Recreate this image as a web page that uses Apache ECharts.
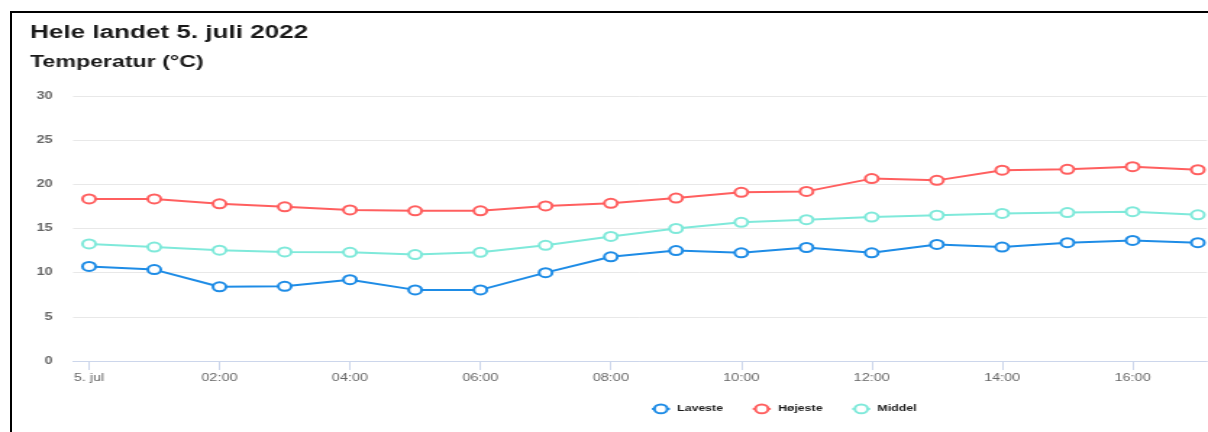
<!DOCTYPE html>
<html>
<head>
<meta charset="utf-8">
<script src="https://cdn.jsdelivr.net/npm/echarts@6/dist/echarts.min.js"></script>
<style>
html,body{margin:0;padding:0;background:#fff;overflow:hidden;width:1208px;height:432px;}
#chart{position:absolute;left:0;top:0;width:834px;height:432px;transform:scaleX(1.4484);transform-origin:0 0;}
#frame{position:absolute;left:10px;top:11px;width:1400px;height:600px;border-left:2px solid #000;border-top:2px solid #000;pointer-events:none;}
</style>
</head>
<body>
<div id="chart"></div>
<div id="frame"></div>
<script>
// Data
var hours = [0, 1, 2, 3, 4, 5, 6, 7, 8, 9, 10, 11, 12, 13, 14, 15, 16, 17];
var laveste = [10.7, 10.35, 8.4, 8.45, 9.2, 8.05, 8.05, 10.0, 11.8, 12.5, 12.25, 12.85, 12.25, 13.2, 12.9, 13.4, 13.65, 13.4];
var hojeste = [18.35, 18.35, 17.8, 17.45, 17.1, 17.0, 17.0, 17.55, 17.85, 18.45, 19.1, 19.2, 20.65, 20.45, 21.6, 21.7, 22.0, 21.65];
var middel = [13.25, 12.9, 12.55, 12.35, 12.3, 12.05, 12.3, 13.1, 14.1, 15.0, 15.7, 16.0, 16.3, 16.5, 16.7, 16.8, 16.9, 16.55];
var xTickValues = [0, 2, 4, 6, 8, 10, 12, 14, 16];
var xTickLabels = ['5. jul', '02:00', '04:00', '06:00', '08:00', '10:00', '12:00', '14:00', '16:00'];
var seriesNames = ['Laveste', 'Højeste', 'Middel'];
var seriesColors = ['#1e8ce6', '#ff5f5f', '#7fe9da'];

function pairs(vals) { return hours.map(function (h, i) { return [h, vals[i]]; }); }

var FONT = 'Liberation Sans, Arial, sans-serif';
var chart = echarts.init(document.getElementById('chart'));
var values = [laveste, hojeste, middel];

chart.setOption({
  animation: false,
  color: seriesColors,
  title: [
    { text: 'Hele landet 5. juli 2022', left: 20.7, top: 24, padding: 0,
      textStyle: { fontFamily: FONT, fontSize: 18, fontWeight: 'bold', color: '#1a1a1a' } },
    { text: 'Temperatur (°C)', left: 20.7, top: 55, padding: 0,
      textStyle: { fontFamily: FONT, fontSize: 16, fontWeight: 'bold', color: '#1a1a1a' } }
  ],
  legend: {
    left: 449, top: 403.5, padding: 0,
    itemWidth: 12.5, itemHeight: 11, itemGap: 19.5,
    textStyle: { fontFamily: FONT, fontSize: 8.5, fontWeight: 'bold', color: '#1a1a1a' },
    data: seriesNames
  },
  grid: { left: 50.4, right: 0.7, top: 96, bottom: 71, containLabel: false },
  xAxis: {
    type: 'value', min: -0.246, max: 17.14,
    axisLine: { show: true, lineStyle: { color: '#ccd6eb', width: 1 } },
    axisTick: { show: true, customValues: xTickValues, length: 9, lineStyle: { color: '#ccd6eb' } },
    axisLabel: {
      customValues: xTickValues, margin: 12,
      fontFamily: FONT, fontSize: 10, color: '#666',
      formatter: function (v) { var i = xTickValues.indexOf(v); return i >= 0 ? xTickLabels[i] : ''; }
    },
    splitLine: { show: false }
  },
  yAxis: {
    type: 'value', min: 0, max: 30, interval: 5,
    axisLine: { show: false }, axisTick: { show: false },
    axisLabel: { margin: 14, fontFamily: FONT, fontSize: 10, fontWeight: 'bold', color: '#666' },
    splitLine: { lineStyle: { color: '#e8e8e8', width: 1 } }
  },
  series: seriesNames.map(function (n, i) {
    return {
      name: n, type: 'line', data: pairs(values[i]),
      symbol: 'circle', symbolSize: 9, showSymbol: true,
      lineStyle: { width: 2, color: seriesColors[i] },
      itemStyle: { color: '#fff', borderColor: seriesColors[i], borderWidth: 2 }
    };
  })
});
</script>
</body>
</html>
